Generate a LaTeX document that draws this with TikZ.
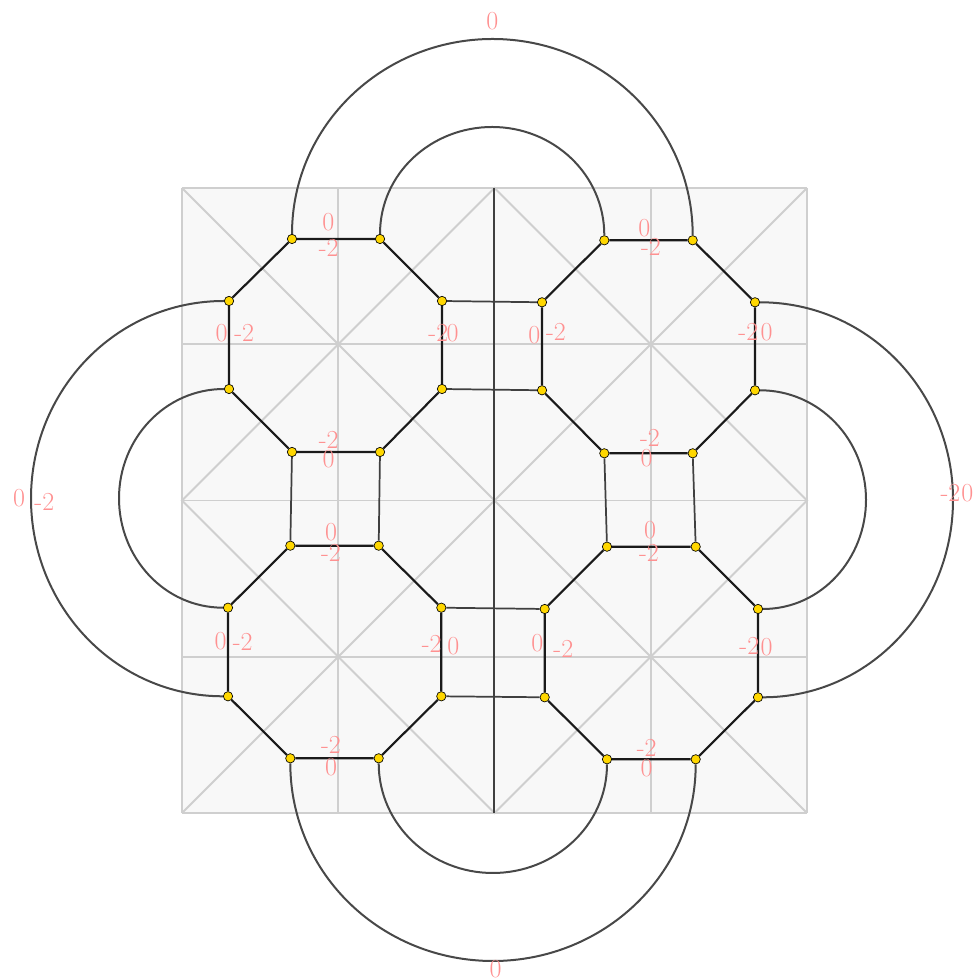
\documentclass[tikz,border=0pt]{standalone}
\definecolor{vyellow}{RGB}{255,215,0}
\definecolor{octc}{RGB}{26,26,26}
\definecolor{linkc}{RGB}{64,64,64}
\definecolor{arcc}{RGB}{72,72,72}
\definecolor{gridc}{RGB}{207,207,207}
\definecolor{bgc}{RGB}{248,248,248}
\definecolor{lblc}{RGB}{255,145,145}
\begin{document}
\begin{tikzpicture}[x=0.75pt,y=0.75pt,
  vtx/.style={circle,fill=vyellow,draw=black,line width=0.5pt,inner sep=0pt,minimum size=7pt},
  oct/.style={draw=octc,line width=1.6pt},
  link/.style={draw=linkc,line width=1.3pt},
  arcl/.style={draw=arcc,line width=1.5pt},
  lbl/.style={text=lblc,inner sep=0pt,font=\fontsize{19.5}{19.5}\selectfont},
  gridl/.style={draw=gridc,line width=1.4pt}]
\useasboundingbox (0,0) rectangle (979,980);
% background board
\fill[bgc] (182,167) rectangle (807,792);
\foreach \k in {0,1,2,3,4} {
  \draw[gridl] ({182+156.25*\k},167) -- ({182+156.25*\k},792);
  \draw[gridl] (182,{167+156.25*\k}) -- (807,{167+156.25*\k});
}
\draw[gridl] (182,792) -- (807,167);
\draw[gridl] (182,167) -- (807,792);
\draw[gridl] (494.5,792) -- (182,479.5) -- (494.5,167) -- (807,479.5) -- cycle;
\draw[draw=linkc,line width=1.5pt] (494.3,167) -- (494.3,792);
% vertices TL
\node[vtx] (a1) at (292,741) {};
\node[vtx] (a2) at (380,741) {};
\node[vtx] (a3) at (442,679) {};
\node[vtx] (a4) at (442,591) {};
\node[vtx] (a5) at (380,528) {};
\node[vtx] (a6) at (292,528) {};
\node[vtx] (a7) at (229,591) {};
\node[vtx] (a8) at (229,679) {};
% TR
\node[vtx] (b1) at (604.3,739.7) {};
\node[vtx] (b2) at (692.7,739.7) {};
\node[vtx] (b3) at (755,677.7) {};
\node[vtx] (b4) at (755,589.7) {};
\node[vtx] (b5) at (692.7,526.7) {};
\node[vtx] (b6) at (604.3,526.7) {};
\node[vtx] (b7) at (542,589.7) {};
\node[vtx] (b8) at (542,677.7) {};
% BL
\node[vtx] (c1) at (290.3,434.3) {};
\node[vtx] (c2) at (378.7,434.3) {};
\node[vtx] (c3) at (441.3,372.3) {};
\node[vtx] (c4) at (441.3,283.7) {};
\node[vtx] (c5) at (378.7,221.7) {};
\node[vtx] (c6) at (290.3,221.7) {};
\node[vtx] (c7) at (228,283.7) {};
\node[vtx] (c8) at (228,372.3) {};
% BR
\node[vtx] (d1) at (607,433.3) {};
\node[vtx] (d2) at (695.7,433.3) {};
\node[vtx] (d3) at (758,371) {};
\node[vtx] (d4) at (758,282.7) {};
\node[vtx] (d5) at (695.7,220.7) {};
\node[vtx] (d6) at (607,220.7) {};
\node[vtx] (d7) at (544.7,282.7) {};
\node[vtx] (d8) at (544.7,371) {};
% octagons
\draw[oct] (a1)--(a2)--(a3)--(a4)--(a5)--(a6)--(a7)--(a8)--(a1);
\draw[oct] (b1)--(b2)--(b3)--(b4)--(b5)--(b6)--(b7)--(b8)--(b1);
\draw[oct] (c1)--(c2)--(c3)--(c4)--(c5)--(c6)--(c7)--(c8)--(c1);
\draw[oct] (d1)--(d2)--(d3)--(d4)--(d5)--(d6)--(d7)--(d8)--(d1);
% links
\draw[link] (a3)--(b8);
\draw[link] (a4)--(b7);
\draw[link] (a6)--(c1);
\draw[link] (a5)--(c2);
\draw[link] (b6)--(d1);
\draw[link] (b5)--(d2);
\draw[link] (c3)--(d8);
\draw[link] (c4)--(d7);
% arc apex coordinates
\coordinate (tO) at (492.5,941);
\coordinate (tI) at (492.2,853);
\coordinate (lO) at (31,481.5);
\coordinate (lI) at (119,481.7);
\coordinate (rO) at (953,480.2);
\coordinate (rI) at (866,480.3);
\coordinate (bO) at (493,19);
\coordinate (bI) at (492.8,107);
% arcs
\draw[arcl] (a1) to[out=90,in=180] (tO) to[out=0,in=90] (b2);
\draw[arcl] (a2) to[out=90,in=180] (tI) to[out=0,in=90] (b1);
\draw[arcl] (a8) to[out=180,in=90] (lO) to[out=270,in=180] (c7);
\draw[arcl] (a7) to[out=180,in=90] (lI) to[out=270,in=180] (c8);
\draw[arcl] (b3) to[out=0,in=90] (rO) to[out=270,in=0] (d4);
\draw[arcl] (b4) to[out=0,in=90] (rI) to[out=270,in=0] (d3);
\draw[arcl] (c6) to[out=270,in=180] (bO) to[out=0,in=270] (d5);
\draw[arcl] (c5) to[out=270,in=180] (bI) to[out=0,in=270] (d6);
% labels TL
\node[lbl] (la1) at (328.3,758.3) {0};
\node[lbl] (la2) at (328.7,731.7) {-2};
\node[lbl] (la3) at (221.7,646.7) {0};
\node[lbl] (la4) at (244.2,647) {-2};
\node[lbl] (la5) at (438.3,647) {-2};
\node[lbl] (la6) at (452.5,647) {0};
\node[lbl] (la7) at (328.7,540) {-2};
\node[lbl] (la8) at (328.7,520.7) {0};
% labels TR
\node[lbl] (lb1) at (644.3,751.7) {0};
\node[lbl] (lb2) at (651,733.3) {-2};
\node[lbl] (lb3) at (534.3,645) {0};
\node[lbl] (lb4) at (556,648.3) {-2};
\node[lbl] (lb5) at (748.3,648.3) {-2};
\node[lbl] (lb6) at (766.7,648.3) {0};
\node[lbl] (lb7) at (650,541.7) {-2};
\node[lbl] (lb8) at (646.7,521.7) {0};
% labels BL
\node[lbl] (lc1) at (331,448.3) {0};
\node[lbl] (lc2) at (331,426.7) {-2};
\node[lbl] (lc3) at (220.7,339.3) {0};
\node[lbl] (lc4) at (242.7,338.3) {-2};
\node[lbl] (lc5) at (431.7,335.7) {-2};
\node[lbl] (lc6) at (453.3,334) {0};
\node[lbl] (lc7) at (331,235) {-2};
\node[lbl] (lc8) at (331,213.3) {0};
% labels BR
\node[lbl] (ld1) at (650,450) {0};
\node[lbl] (ld2) at (649,426.7) {-2};
\node[lbl] (ld3) at (537.3,336.7) {0};
\node[lbl] (ld4) at (563.3,330.7) {-2};
\node[lbl] (ld5) at (749.3,334) {-2};
\node[lbl] (ld6) at (766.7,333.3) {0};
\node[lbl] (ld7) at (646.7,231.7) {-2};
\node[lbl] (ld8) at (646.7,211.7) {0};
% outer labels
\node[lbl] (lt) at (492.3,959.3) {0};
\node[lbl] (lbot) at (495.7,10.7) {0};
\node[lbl] (ll1) at (19,481.7) {0};
\node[lbl] (ll2) at (44.3,478.3) {-2};
\node[lbl] (lr1) at (950.5,486.7) {-2};
\node[lbl] (lr2) at (967.3,486.7) {0};
\end{tikzpicture}
\end{document}
